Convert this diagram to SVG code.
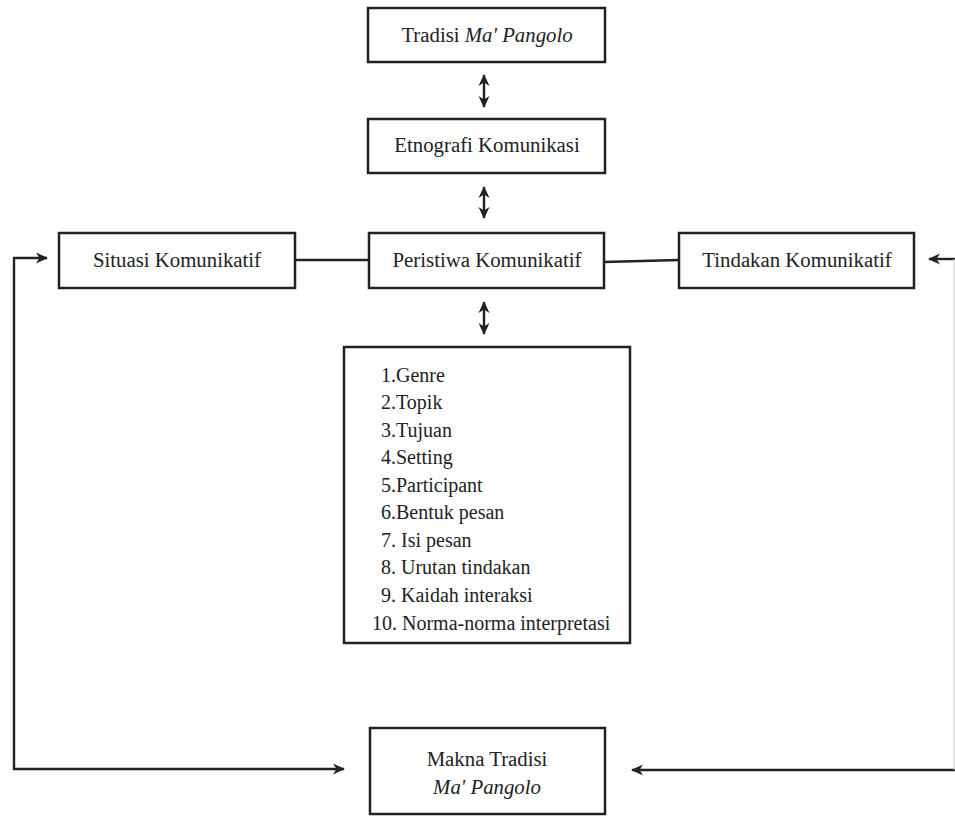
<svg xmlns="http://www.w3.org/2000/svg" width="955" height="816" viewBox="0 0 955 816">
<style>
.box{fill:#fff;stroke:#222;stroke-width:2.5}
.t{font-family:'Liberation Serif',Tinos,'DejaVu Serif',serif;font-size:20.8px;fill:#222;text-anchor:middle}
.l{font-family:'Liberation Serif',Tinos,'DejaVu Serif',serif;font-size:20px;fill:#222}
.c{fill:none;stroke:#222;stroke-width:2.4}
</style>
<defs>
<marker id="ah" markerUnits="userSpaceOnUse" markerWidth="14" markerHeight="14" viewBox="0 0 14 14" refX="12" refY="7" orient="auto-start-reverse">
<path d="M1,1.5 L13,7 L1,12.5 L4.5,7 z" fill="#222"/>
</marker>
</defs>
<rect width="955" height="816" fill="#fff"/>
<g id="connectors">
<line class="c" x1="484" y1="75" x2="484" y2="107" marker-start="url(#ah)" marker-end="url(#ah)"/>
<line class="c" x1="484" y1="187" x2="484" y2="218" marker-start="url(#ah)" marker-end="url(#ah)"/>
<line class="c" x1="484" y1="302" x2="484" y2="334" marker-start="url(#ah)" marker-end="url(#ah)"/>
<line class="c" x1="295" y1="260" x2="370" y2="260"/>
<line class="c" x1="604" y1="262" x2="679" y2="260"/>
<polyline class="c" points="344,769 14,769 14,258 47,258" marker-start="url(#ah)" marker-end="url(#ah)"/>
<line class="c" x1="955" y1="259" x2="929" y2="259" marker-end="url(#ah)"/>
<line class="c" x1="955" y1="770" x2="632" y2="770" marker-end="url(#ah)"/>
<line x1="954" y1="259" x2="954" y2="770" stroke="#ccc" stroke-width="1"/>
</g>
<g id="tradisi">
<rect class="box" x="368" y="8" width="237" height="54"/>
<text class="t" x="487" y="42">Tradisi <tspan font-style="italic">Ma' Pangolo</tspan></text>
</g>
<g id="etnografi">
<rect class="box" x="368" y="119" width="237" height="54"/>
<text class="t" x="487" y="152">Etnografi Komunikasi</text>
</g>
<g id="situasi">
<rect class="box" x="59" y="233" width="236" height="55"/>
<text class="t" x="177" y="267">Situasi Komunikatif</text>
</g>
<g id="peristiwa">
<rect class="box" x="369" y="233" width="235" height="55"/>
<text class="t" x="487" y="267">Peristiwa Komunikatif</text>
</g>
<g id="tindakan">
<rect class="box" x="679" y="233" width="235" height="55"/>
<text class="t" x="797" y="267">Tindakan Komunikatif</text>
</g>
<g id="daftar">
<rect class="box" x="344" y="347" width="286" height="296"/>
<text class="l" x="381" y="382">1.Genre</text>
<text class="l" x="381" y="409">2.Topik</text>
<text class="l" x="381" y="437">3.Tujuan</text>
<text class="l" x="381" y="464">4.Setting</text>
<text class="l" x="381" y="492">5.Participant</text>
<text class="l" x="381" y="519">6.Bentuk pesan</text>
<text class="l" x="381" y="547">7. Isi pesan</text>
<text class="l" x="381" y="574">8. Urutan tindakan</text>
<text class="l" x="381" y="602">9. Kaidah interaksi</text>
<text class="l" x="372" y="630">10. Norma-norma interpretasi</text>
</g>
<g id="makna">
<rect class="box" x="370" y="728" width="235" height="86"/>
<text class="t" x="487" y="766">Makna Tradisi</text>
<text class="t" x="487" y="794" font-style="italic">Ma' Pangolo</text>
</g>
</svg>
